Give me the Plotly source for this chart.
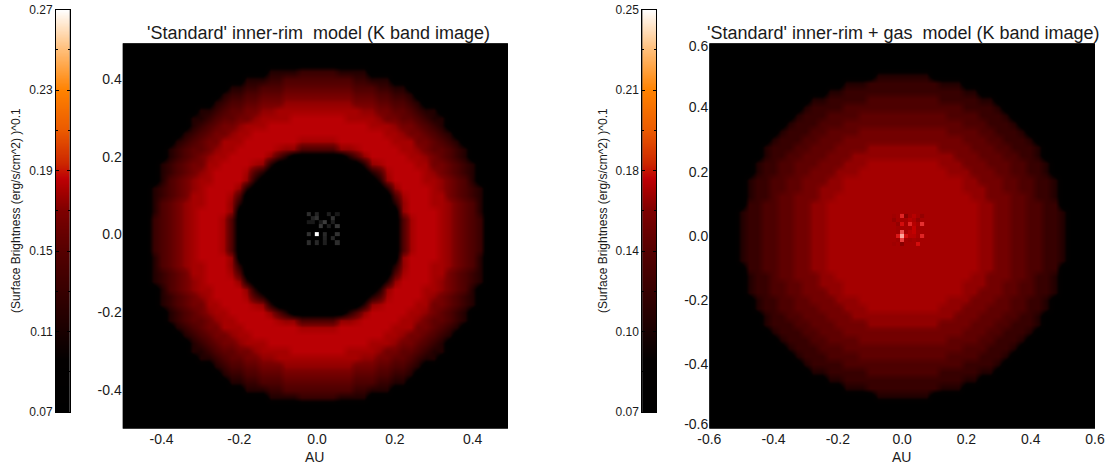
import numpy as np
import plotly.graph_objects as go

W, H = 1109, 470

# ---- colour ramp ----
CMAP = [[0, "rgb(0,0,0)"], [0.13, "rgb(3,0,0)"], [0.2, "rgb(25,0,0)"], [0.4, "rgb(85,0,0)"],
        [0.5, "rgb(125,0,0)"], [0.55, "rgb(165,0,0)"], [0.58, "rgb(190,0,5)"], [0.62, "rgb(205,40,0)"],
        [0.7, "rgb(235,90,0)"], [0.8, "rgb(255,130,0)"], [0.9, "rgb(255,190,120)"], [1, "rgb(255,255,255)"]]

# ---- left image: surface brightness levels, one quadrant (0.02 AU cells, from the centre out) ----
LEVELS_A = [0.07, 0.115, 0.13, 0.145, 0.155, 0.165, 0.175, 0.18, 0.185, 0.19]
QUADRANT_A = [
    "00000000000378887654320000",
    "00000000000378887654320000",
    "00000000000378887654320000",
    "00000000000688887654310000",
    "00000000001688877654310000",
    "00000000003788877543210000",
    "00000000016888876543210000",
    "00000000168888776543100000",
    "00000001378888765432100000",
    "00000016788887755432100000",
    "00001368888877654321000000",
    "33366788888776544321000000",
    "77788888887775543210000000",
    "88888888877655432100000000",
    "88888887776554321000000000",
    "88887777655443211000000000",
    "77777766554432110000000000",
    "66666555443321000000000000",
    "55555444332210000000000000",
    "44444333221100000000000000",
    "33333221110000000000000000",
    "22211110000000000000000000",
    "00000000000000000000000000",
    "00000000000000000000000000",
    "00000000000000000000000000",
    "00000000000000000000000000",
]
# ---- right image (0.025 AU cells) ----
LEVELS_B = [0.07, 0.1105, 0.124, 0.1375, 0.1465, 0.1555, 0.1645, 0.169, 0.1735, 0.178]
QUADRANT_B = [
    "7777777777665544332210000",
    "7777777777665544332210000",
    "7777777777665544332210000",
    "7777777777665544332210000",
    "7777777777665544332200000",
    "7777777776655544322100000",
    "7777777766655443322100000",
    "7777777766555443322100000",
    "7777776665554433221000000",
    "7777766655544433221000000",
    "6666666555444332210000000",
    "6666655554443322210000000",
    "5555555544433222100000000",
    "5555554444332221000000000",
    "4444444433322210000000000",
    "4444443333222100000000000",
    "3333333322221000000000000",
    "3333322222110000000000000",
    "2222222211000000000000000",
    "2222211100000000000000000",
    "1111000000000000000000000",
    "0000000000000000000000000",
    "0000000000000000000000000",
    "0000000000000000000000000",
    "0000000000000000000000000",
]
# ---- central star speckle (grey levels left, relative brightness right) ----
N = None
SPECKLE_A_X = [-0.021, -0.010, 0.0, 0.010, 0.021, 0.031, 0.041, 0.052]
SPECKLE_A_Y = [0.052, 0.041, 0.031, 0.021, 0.010, 0.0, -0.010, -0.021]
SPECKLE_A = [
    [45, N, 35, N, N, 30, N, 25],
    [N, 35, 50, N, N, N, 50, N],
    [25, 25, N, 25, 60, N, 30, N],
    [N, N, N, 55, N, 30, N, 55],
    [N, N, N, N, N, N, N, N],
    [50, N, 255, N, 40, N, N, 50],
    [N, N, N, N, 35, N, 40, N],
    [45, N, 40, N, 30, N, N, 45],
]
SPECKLE_B_X = [-0.025, -0.0125, 0.0, 0.0125, 0.025, 0.0375, 0.05, 0.0625]
SPECKLE_B_Y = [0.0625, 0.05, 0.0375, 0.025, 0.0125, 0.0, -0.0125, -0.025]
SPECKLE_B = [
    [.3, N, .65, .2, N, .4, N, .25],
    [.25, N, N, N, .4, .35, .25, N],
    [N, .25, .55, N, .65, .4, N, .7],
    [N, .3, N, N, N, .45, .3, N],
    [N, .3, .8, N, .4, .45, N, N],
    [N, .6, 1, .55, .4, .4, N, .65],
    [N, .3, .75, N, .3, N, .3, N],
    [.3, N, .2, N, N, N, .55, N],
]
SPECKLE_B_CMAP = [[0, "rgb(90,0,0)"], [0.5, "rgb(205,0,0)"], [0.75, "rgb(235,60,60)"], [1, "rgb(255,165,155)"]]

TICKS_A = [-0.4, -0.2, 0.0, 0.2, 0.4]
TICKS_B = [-0.6, -0.4, -0.2, 0.0, 0.2, 0.4, 0.6]
TICKS_B_Y_POS = [-0.585, -0.4, -0.2, 0.0, 0.2, 0.4, 0.59]
BAR_A_VALS = [0.07, 0.11, 0.15, 0.19, 0.23, 0.27]
BAR_A_TEXT = ["0.07", "0.11", "0.15", "0.19", "0.23", "0.27"]
BAR_A_MINOR = [0.09, 0.13, 0.17, 0.21, 0.25]
BAR_B_VALS = [0.07, 0.106, 0.142, 0.178, 0.214, 0.25]
BAR_B_TEXT = ["0.07", "0.10", "0.14", "0.18", "0.21", "0.25"]
BAR_B_MINOR = [0.088, 0.124, 0.16, 0.196, 0.232]
TITLE_A = "'Standard' inner-rim\u00a0 model (K band image)"
TITLE_B = "'Standard' inner-rim + gas\u00a0 model (K band image)"
BAR_TITLE = "(Surface Brightness (erg/s/cm^2) )^0.1"
X_TITLE = "AU"


def unfold(rows, levels):
    half = [[levels[int(c)] for c in r] for r in rows]
    full = [r[:0:-1] + r for r in half]
    return full[:0:-1] + full


def axis_coords(step, n):
    return [step * k for k in range(-n, n + 1)]


def dx(a, b):
    return [a / W, b / W]


def dy(top, bottom):
    return [1 - bottom / H, 1 - top / H]


fig = go.Figure()
FONT = dict(family="Liberation Sans, Arial, sans-serif", color="#1a1a1a")

fig.add_heatmap(z=unfold(QUADRANT_A, LEVELS_A), x=axis_coords(0.02, 25), y=axis_coords(0.02, 25),
                colorscale=CMAP, zmin=0.07, zmax=0.27, zsmooth="best", showscale=False, xaxis="x", yaxis="y")
fig.add_heatmap(z=SPECKLE_A, x=SPECKLE_A_X, y=SPECKLE_A_Y, colorscale=[[0, "black"], [1, "white"]],
                zmin=0, zmax=255, showscale=False, xaxis="x", yaxis="y", hoverongaps=False)
fig.add_heatmap(z=unfold(QUADRANT_B, LEVELS_B), x=axis_coords(0.025, 24), y=axis_coords(0.025, 24),
                colorscale=CMAP, zmin=0.07, zmax=0.25, zsmooth="best", showscale=False, xaxis="x2", yaxis="y2")
fig.add_heatmap(z=SPECKLE_B, x=SPECKLE_B_X, y=SPECKLE_B_Y, colorscale=SPECKLE_B_CMAP,
                zmin=0, zmax=1, showscale=False, xaxis="x2", yaxis="y2", hoverongaps=False)

# colour bars: ramp from the axis minimum to maximum
for (lo, hi, xa, ya) in [(0.07, 0.27, "x3", "y3"), (0.07, 0.25, "x4", "y4")]:
    ramp = np.linspace(lo, hi, 256)
    fig.add_heatmap(z=[[v] for v in ramp], x=[0], y=ramp, colorscale=CMAP, zmin=lo, zmax=hi,
                    zsmooth="best", showscale=False, xaxis=xa, yaxis=ya)


def main_x(dom, rng, ticks, anchor):
    return dict(domain=dom, range=rng, tickvals=ticks, ticktext=[f"{t:.1f}" for t in ticks],
                ticks="", showgrid=False, zeroline=False,
                showline=False, anchor=anchor, tickfont=dict(size=14, **FONT), automargin=False)


def main_y(dom, rng, pos, labels, anchor):
    return dict(domain=dom, range=rng, tickvals=pos, ticktext=[f"{t:.1f}" for t in labels],
                ticks="", showgrid=False, zeroline=False, showline=False, anchor=anchor,
                tickfont=dict(size=14, **FONT), automargin=False)


def bar_y(dom, rng, vals, text, minor, anchor):
    return dict(domain=dom, range=rng, tickvals=vals, ticktext=text, ticks="inside", ticklen=3,
                tickcolor="black", mirror="allticks", showline=True, linecolor="black", linewidth=1,
                showgrid=False, zeroline=False, anchor=anchor, tickfont=dict(size=12, **FONT),
                automargin=False,
                minor=dict(tickvals=minor, ticks="inside", ticklen=2, tickcolor="black", showgrid=False))


def bar_x(dom, anchor):
    return dict(domain=dom, showticklabels=False, ticks="", showgrid=False, zeroline=False,
                showline=True, linecolor="black", linewidth=1, mirror=True, anchor=anchor, automargin=False)


def note(text, x, y, size, angle=0):
    return dict(text=text, x=x / W, y=1 - y / H, xref="paper", yref="paper", showarrow=False,
                xanchor="center", yanchor="middle", textangle=angle, font=dict(size=size, **FONT))


T, B = 43.3, 428.7
fig.update_layout(
    width=W, height=H, margin=dict(l=0, r=0, t=0, b=0), paper_bgcolor="white", plot_bgcolor="black",
    showlegend=False,
    xaxis=main_x(dx(122.7, 508), [-0.5, 0.491], TICKS_A, "y"),
    yaxis=main_y(dy(T, B), [-0.5, 0.492], TICKS_A, TICKS_A, "x"),
    xaxis2=main_x(dx(709.3, 1095), [-0.6, 0.6], TICKS_B, "y2"),
    yaxis2=main_y(dy(T, B), [-0.6, 0.6], TICKS_B_Y_POS, TICKS_B, "x2"),
    xaxis3=bar_x(dx(56, 69.5), "y3"),
    yaxis3=bar_y(dy(9.5, 412), [0.07, 0.27], BAR_A_VALS, BAR_A_TEXT, BAR_A_MINOR, "x3"),
    xaxis4=bar_x(dx(642.3, 656), "y4"),
    yaxis4=bar_y(dy(9.5, 412), [0.07, 0.25], BAR_B_VALS, BAR_B_TEXT, BAR_B_MINOR, "x4"),
    annotations=[
        note(TITLE_A, 318, 33, 18),
        note(TITLE_B, 903, 33, 18),
        note(BAR_TITLE, 16, 211, 12, -90),
        note(BAR_TITLE, 603, 211, 12, -90),
        note(X_TITLE, 315, 457, 14),
        note(X_TITLE, 901, 457, 14),
    ],
)
fig.write_html("out.html", config=dict(displayModeBar=False),
               post_script="document.body.style.margin='0';")
